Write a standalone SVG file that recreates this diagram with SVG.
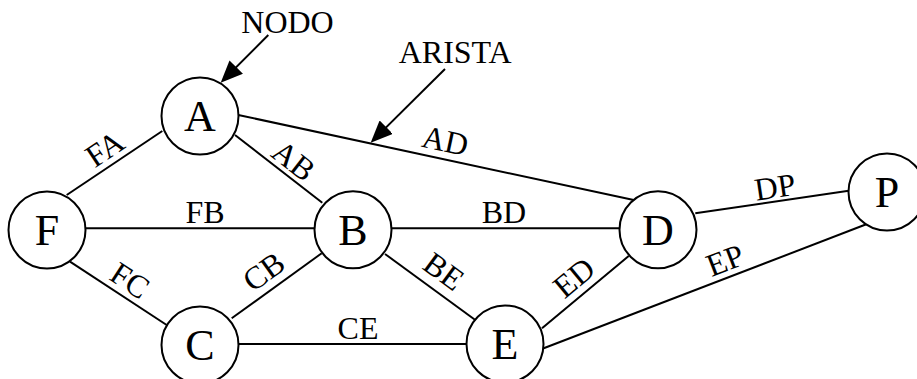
<svg xmlns="http://www.w3.org/2000/svg" width="917" height="379" viewBox="0 0 917 379">
<style>
.edge{stroke:#000;stroke-width:2;fill:none}
.node circle{fill:#fff;stroke:#000;stroke-width:2}
.node text{font-family:"Liberation Serif","Times New Roman",serif;font-size:44px;text-anchor:middle;fill:#000}
.lbl{font-family:"Liberation Serif","Times New Roman",serif;font-size:32px;text-anchor:middle;fill:#000}
.ptr{stroke:#000;stroke-width:2;fill:none;marker-end:url(#arrow)}
</style>
<defs>
<marker id="arrow" viewBox="0 0 22 19" refX="18" refY="9.5" markerWidth="22" markerHeight="19" orient="auto" markerUnits="userSpaceOnUse">
<path d="M0,0 L22,9.5 L0,19 z" fill="#000"/>
</marker>
</defs>
<rect width="917" height="379" fill="#fff"/>
<g id="connectors">
<line class="edge" x1="66.7" y1="195" x2="162.3" y2="131"/>
<line class="edge" x1="235" y1="135" x2="322.3" y2="202.7"/>
<line class="edge" x1="238.3" y1="115" x2="633.7" y2="200"/>
<line class="edge" x1="85.7" y1="228.3" x2="315" y2="228.3"/>
<line class="edge" x1="391" y1="228.3" x2="620.3" y2="228.3"/>
<line class="edge" x1="70" y1="261.7" x2="166.7" y2="325"/>
<line class="edge" x1="231.7" y1="318.3" x2="321.7" y2="253.3"/>
<line class="edge" x1="385" y1="254" x2="475.3" y2="320"/>
<line class="edge" x1="238.3" y1="344" x2="467" y2="344"/>
<line class="edge" x1="542" y1="328.3" x2="628.7" y2="256"/>
<line class="edge" x1="695.3" y1="213.3" x2="848.7" y2="190.7"/>
<line class="edge" x1="543.7" y1="348.3" x2="866.3" y2="224.3"/>
<text class="lbl" x="110.8" y="157.9" transform="rotate(-33.8 110.8 157.9)">FA</text>
<text class="lbl" x="287.1" y="169.2" transform="rotate(37.8 287.1 169.2)">AB</text>
<text class="lbl" x="443" y="151.3" transform="rotate(12.1 443 151.3)">AD</text>
<text class="lbl" x="205" y="223.3">FB</text>
<text class="lbl" x="504" y="222.7">BD</text>
<text class="lbl" x="124.1" y="289.6" transform="rotate(33.2 124.1 289.6)">FC</text>
<text class="lbl" x="270.1" y="280.2" transform="rotate(-35.8 270.1 280.2)">CB</text>
<text class="lbl" x="437.6" y="280.1" transform="rotate(36.2 437.6 280.1)">BE</text>
<text class="lbl" x="358" y="339">CE</text>
<text class="lbl" x="580.8" y="285.8" transform="rotate(-39.8 580.8 285.8)">ED</text>
<text class="lbl" x="776.6" y="197.7" transform="rotate(-8.4 776.6 197.7)">DP</text>
<text class="lbl" x="728.9" y="270.4" transform="rotate(-21 728.9 270.4)">EP</text>
</g>
<g id="annotations">
<text class="lbl" x="287.5" y="33">NODO</text>
<line class="ptr" x1="268.3" y1="35" x2="223.5" y2="79.9"/>
<text class="lbl" x="455.2" y="63.3">ARISTA</text>
<line class="ptr" x1="445" y1="69" x2="373.5" y2="139.9"/>
</g>
<g id="node-A" class="node"><circle cx="200" cy="116" r="38.5"/><text x="200" y="131">A</text></g>
<g id="node-F" class="node"><circle cx="47" cy="230" r="38.5"/><text x="47" y="245">F</text></g>
<g id="node-B" class="node"><circle cx="353" cy="229.7" r="38.5"/><text x="353" y="244.7">B</text></g>
<g id="node-C" class="node"><circle cx="200" cy="345" r="38.5"/><text x="200" y="360">C</text></g>
<g id="node-E" class="node"><circle cx="505" cy="344" r="38.5"/><text x="505" y="359">E</text></g>
<g id="node-D" class="node"><circle cx="658" cy="229.7" r="38.5"/><text x="658" y="244.7">D</text></g>
<g id="node-P" class="node"><circle cx="887" cy="192" r="38.5"/><text x="887" y="207">P</text></g>
</svg>
